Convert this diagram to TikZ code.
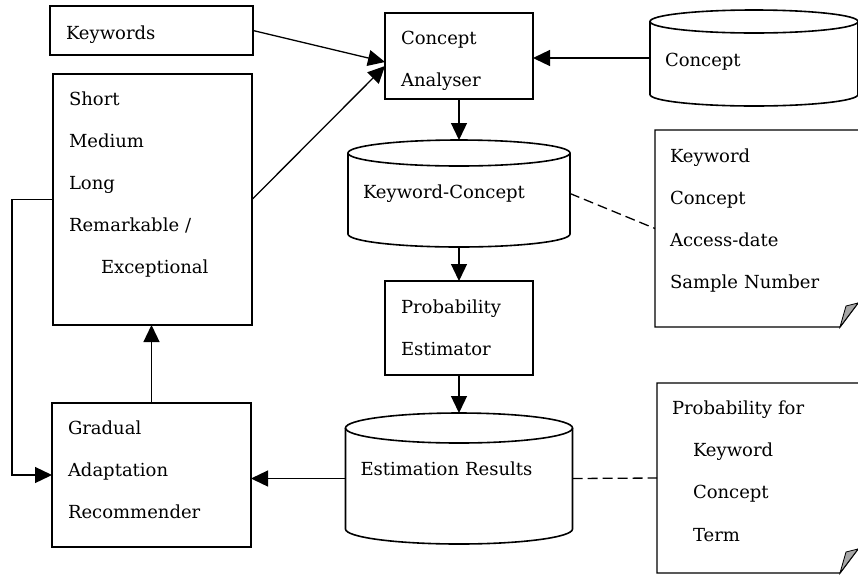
\documentclass[tikz,border=0pt]{standalone}
\usepackage{fontspec}
\setmainfont{DejaVu Serif}
\usetikzlibrary{arrows.meta,positioning}

\newcommand\drum[3]{%
  \draw [line width=1.6pt]
    ([yshift=-#3]#1.north west)
    -- ([yshift=#3]#1.south west)
      arc [start angle=180,end angle=360,x radius=#2,y radius=#3]
    -- ([yshift=-#3]#1.north east)
  ;
  \draw [line width=1.6pt] ([yshift=-#3]#1.north) ellipse [x radius=#2,y radius=#3];
}
\newcommand\memo[1]{%
  \draw
    (#1.north east)
    -- (#1.north west)
    -- (#1.south west)
    -- ([xshift=-18pt]#1.south east)
    -- ([yshift=24pt]#1.south east)
  ;
  \filldraw [line width=0.8pt,fill=gray!70]
    ([xshift=-18pt]#1.south east)
    -- ([xshift=-12pt,yshift=21pt]#1.south east)
    -- ([yshift=24pt]#1.south east)
    -- cycle
  ;
}

\begin{document}
\begin{tikzpicture}[x=1pt,y=1pt,line width=1.3pt,
  font=\fontsize{18}{42}\selectfont,
  box/.style={draw,outer sep=0pt,align=left,inner xsep=16pt},
  store/.style={outer sep=0pt,align=left,inner xsep=15pt},
  flow/.style={-{Triangle[length=17pt,width=16pt]}},
  link/.style={dash pattern=on 10pt off 5pt}]
  \useasboundingbox (0,0) rectangle (858,-574);

  \node [box,minimum width=203pt,minimum height=49pt,text width=171pt,
    text height=22pt,text depth=4.3pt]
    (kw) at (151.5,-30.5) {Keywords};
  \node [box,minimum width=199pt,minimum height=251pt,text width=167pt,text depth=200.7pt]
    (terms) at (152.5,-199.5)
    {Short\\Medium\\Long\\Remarkable /\\\hspace*{32pt}Exceptional};
  \node [box,minimum width=199pt,minimum height=144pt,text width=167pt,text depth=93.7pt]
    (grad) at (151.5,-475) {Gradual\\Adaptation\\Recommender};
  \node [box,minimum width=148pt,minimum height=86pt,text width=116pt,text depth=36pt]
    (ana) at (459,-56) {Concept\\Analyser};
  \node [box,minimum width=148pt,minimum height=94pt,text width=116pt]
    (est) at (459,-328) {Probability\\Estimator};

  \node [store,minimum width=208pt,minimum height=96pt,text width=178pt,
    text height=22pt,text depth=4.3pt]
    (cdb) at (754,-58) {Concept};
  \node [store,minimum width=222pt,minimum height=107pt,text width=192pt]
    (kc) at (459,-193.5) {Keyword-Concept};
  \node [store,minimum width=227pt,minimum height=131pt,text width=197pt,text depth=19pt]
    (res) at (459,-478.5) {Estimation Results};
  \drum{cdb}{104}{11.5}
  \drum{kc}{111}{13}
  \drum{res}{113.5}{15}

  \node [store,minimum width=203pt,minimum height=197pt,text width=173pt,text depth=144.7pt]
    (kcnote) at (756.5,-228.5) {Keyword\\Concept\\Access-date\\Sample Number};
  \node [store,minimum width=201pt,minimum height=190pt,text width=171pt,text depth=139.7pt]
    (resnote) at (757.5,-478)
    {Probability for\\\hspace*{21pt}Keyword\\\hspace*{21pt}Concept\\\hspace*{21pt}Term};
  \memo{kcnote}
  \memo{resnote}

  \draw [flow] (kw.east) -- ([yshift=-6pt]ana.west);
  \draw [flow] (terms.east) -- ([yshift=-10pt]ana.west);
  \draw [flow] (cdb.west) -- (cdb.west -| ana.east);
  \draw [flow] (ana.south) -- (kc.north);
  \draw [flow] (kc.south) -- (est.north);
  \draw [flow] (est.south) -- (res.north);
  \draw [flow] (res.west) -- (res.west -| grad.east);
  \draw [flow] (grad.north) -- (grad.north |- terms.south);
  \draw [flow] (terms.west) -- ++(-41,0) |- (grad.west);
  \draw [link] (kc.east) -- (kcnote.west);
  \draw [link] (res.east) -- (resnote.west);
\end{tikzpicture}
\end{document}
